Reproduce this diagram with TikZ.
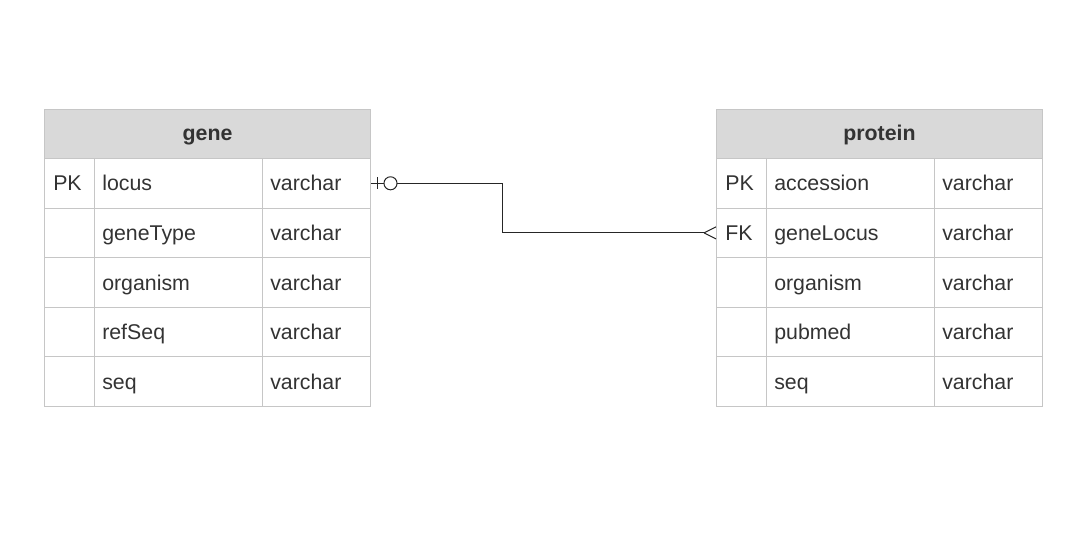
\documentclass[tikz,border=0pt]{standalone}
\usepackage{fontspec}
\setmainfont{Liberation Sans}
\usetikzlibrary{positioning}
\definecolor{headgray}{HTML}{D9D9D9}
\definecolor{gridgray}{HTML}{C6C6C6}
\definecolor{textgray}{HTML}{333333}

\tikzset{
    head/.style={draw=gridgray, fill=headgray, line width=0.75pt, anchor=north west,
        minimum width=244.5pt, minimum height=36.75pt, inner sep=0pt,
        text height=12.5pt, text depth=2.7pt,
        font=\fontsize{16}{19}\selectfont\bfseries, text=textgray},
    rowbox/.style={draw=gridgray, line width=0.75pt, anchor=north west,
        minimum width=244.5pt, minimum height=37.2pt, inner sep=0pt},
    cell/.style={anchor=west, inner sep=0pt, text height=13pt, text depth=1.7pt,
        font=\fontsize{16}{19}\selectfont, text=textgray},
    grid/.style={draw=gridgray, line width=0.75pt},
    conn/.style={draw=black!85, line width=0.75pt}
}

\begin{document}
\begin{tikzpicture}[x=0.75pt, y=-0.75pt]
    \useasboundingbox (0,0) rectangle (1091,536);

    % gene table
    \node[head] (gene) at (44,109) {gene};
    \foreach \key/\field/\row in {PK/locus/1, /geneType/2, /organism/3, /refSeq/4, /seq/5} {
        \node[rowbox] (gene-r\row) at (44,{158+(\row-1)*49.6}) {};
        \node[cell, right=6.75pt of gene-r\row.west] (gene-k\row) {\key};
        \node[cell, right=43.5pt of gene-r\row.west] (gene-f\row) {\field};
        \node[cell, right=169.5pt of gene-r\row.west] (gene-t\row) {varchar};
    }
    \draw[grid] (94,158) -- (94,406); % key column
    \draw[grid] (262,158) -- (262,406); % type column

    % protein table
    \node[head] (protein) at (716,109) {protein};
    \foreach \key/\field/\row in {PK/accession/1, FK/geneLocus/2, /organism/3, /pubmed/4, /seq/5} {
        \node[rowbox] (protein-r\row) at (716,{158+(\row-1)*49.6}) {};
        \node[cell, right=6.75pt of protein-r\row.west] (protein-k\row) {\key};
        \node[cell, right=43.5pt of protein-r\row.west] (protein-f\row) {\field};
        \node[cell, right=169.5pt of protein-r\row.west] (protein-t\row) {varchar};
    }
    \draw[grid] (766,158) -- (766,406); % key column
    \draw[grid] (934,158) -- (934,406); % type column

    % relationship: one (optional) gene to many proteins
    \coordinate (fk) at ([xshift=-9pt]protein-r2.west);
    \draw[conn] (gene-r1.east) ++(6,-6) -- ++(0,12); % bar
    \draw[conn] (gene-r1.east) -- ++(13,0);
    \draw[conn] (gene-r1.east) ++(19.5,0) circle[radius=4.9pt]; % circle
    \draw[conn] (gene-r1.east) ++(26,0) -- ++(105,0) |- (fk);
    \draw[conn] (fk) -- ++(12,-6) (fk) -- ++(12,6); % crow's foot
\end{tikzpicture}
\end{document}
